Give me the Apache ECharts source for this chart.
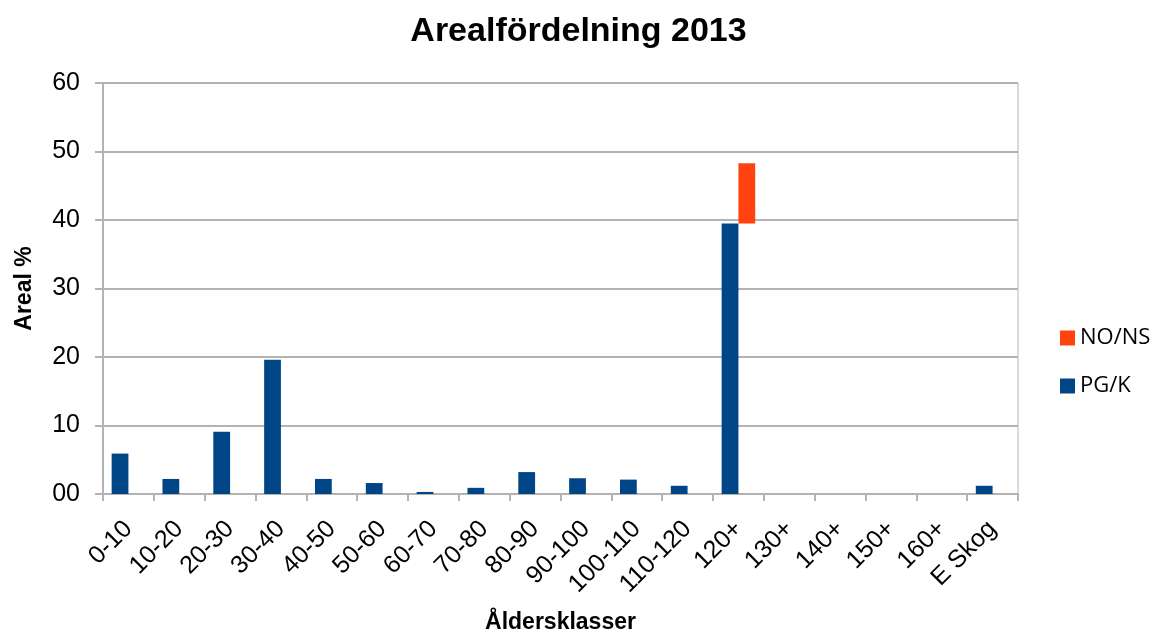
<!DOCTYPE html>
<html>
<head>
<meta charset="utf-8">
<script src="https://cdn.jsdelivr.net/npm/echarts@6/dist/echarts.min.js"></script>
<style>html,body{margin:0;padding:0;background:#fff}#c{width:1157px;height:632px}</style>
</head>
<body>
<div id="c"></div>
<script>
const categories = ['0-10','10-20','20-30','30-40','40-50','50-60','60-70','70-80','80-90','90-100','100-110','110-120','120+','130+','140+','150+','160+','E Skog'];
const pgk  = [5.9, 2.2, 9.1, 19.6, 2.2, 1.6, 0.3, 0.9, 3.2, 2.3, 2.1, 1.2, 39.5, 0, 0, 0, 0, 1.2];
const nons = [0, 0, 0, 0, 0, 0, 0, 0, 0, 0, 0, 0, 8.8, 0, 0, 0, 0, 0];
const yTickLabels = ['00','10','20','30','40','50','60'];

const chart = echarts.init(document.getElementById('c'), null, {renderer:'canvas'});
const gray = '#b3b3b3';
chart.setOption({
  animation: false,
  backgroundColor: '#fff',
  title: {
    text: 'Arealfördelning 2013',
    left: 'center',
    top: 10,
    textStyle: {fontFamily: 'Liberation Sans', fontWeight: 'bold', fontSize: 34, color: '#000'}
  },
  legend: {
    data: ['NO/NS', 'PG/K'],
    orient: 'vertical',
    left: 1055,
    top: 322,
    itemWidth: 15,
    itemHeight: 15,
    itemGap: 26,
    icon: 'rect',
    textStyle: {fontFamily: 'Open Sans', fontSize: 22, color: '#000'}
  },
  grid: {left: 103, right: 139, top: 83, bottom: 138, show: true, borderColor: gray, borderWidth: 1, outerBoundsMode: 'none', containLabel: false},
  xAxis: {
    type: 'category',
    data: categories,
    name: 'Åldersklasser',
    nameLocation: 'middle',
    nameGap: 117,
    nameTextStyle: {fontFamily: 'Liberation Sans', fontWeight: 'bold', fontSize: 23, color: '#000'},
    axisLine: {lineStyle: {color: gray, width: 2}},
    axisTick: {show: true, length: 7, lineStyle: {color: gray, width: 2}},
    axisLabel: {rotate: 45, fontFamily: 'Liberation Sans', fontSize: 25, color: '#000', margin: 31, interval: 0}
  },
  yAxis: {
    type: 'value',
    min: 0, max: 60, interval: 10,
    name: 'Areal %',
    nameLocation: 'middle',
    nameGap: 67,
    nameRotate: 90,
    nameTextStyle: {fontFamily: 'Liberation Sans', fontWeight: 'bold', fontSize: 23, color: '#000'},
    axisLine: {show: true, lineStyle: {color: gray, width: 2}},
    axisTick: {show: true, length: 8, lineStyle: {color: gray, width: 2}},
    splitLine: {lineStyle: {color: gray, width: 2}},
    axisLabel: {
      fontFamily: 'Liberation Sans', fontSize: 25, color: '#000', margin: 23,
      formatter: v => yTickLabels[Math.round(v / 10)]
    }
  },
  series: [
    {name: 'PG/K', type: 'bar', data: pgk, barGap: '0%', barCategoryGap: '34%', itemStyle: {color: '#004586'}},
    {name: 'base', type: 'bar', stack: 'top', data: pgk.map((v, i) => nons[i] ? v : 0), silent: true, itemStyle: {color: 'rgba(0,0,0,0)'}, tooltip: {show: false}},
    {name: 'NO/NS', type: 'bar', stack: 'top', data: nons, itemStyle: {color: '#ff420e'}}
  ]
});
</script>
</body>
</html>
